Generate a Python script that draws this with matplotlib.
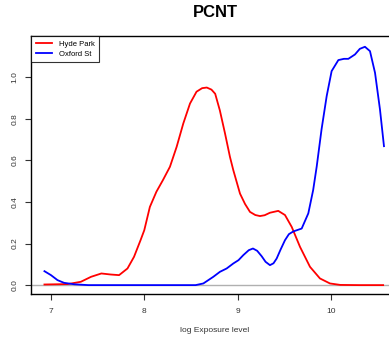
import matplotlib
matplotlib.use("Agg")
import matplotlib.pyplot as plt

plt.rcParams['font.family'] = ['Liberation Sans', 'DejaVu Sans']

# density curves
hyde_x = [6.93, 7.18, 7.32, 7.43, 7.54, 7.64, 7.73, 7.82, 7.89, 7.96, 8.0, 8.06,
          8.13, 8.2, 8.275, 8.347, 8.418, 8.49, 8.56, 8.62, 8.67, 8.72, 8.76, 8.81,
          8.865, 8.918, 8.954, 9.026, 9.08, 9.133, 9.19, 9.24, 9.29, 9.347, 9.436,
          9.508, 9.58, 9.669, 9.776, 9.883, 9.99, 10.1, 10.3, 10.56]
hyde_y = [0.003, 0.005, 0.016, 0.04, 0.056, 0.051, 0.048, 0.08, 0.136, 0.216, 0.264, 0.376,
          0.449, 0.505, 0.569, 0.665, 0.777, 0.873, 0.93, 0.947, 0.95, 0.94, 0.92, 0.84,
          0.73, 0.617, 0.553, 0.44, 0.39, 0.352, 0.337, 0.332, 0.336, 0.348, 0.357,
          0.337, 0.28, 0.184, 0.088, 0.032, 0.008, 0.001, 0.0, 0.0]

oxford_x = [6.93, 7.0, 7.07, 7.14, 7.25, 7.4, 8.55, 8.633, 8.74, 8.811, 8.883, 8.954,
            9.01, 9.061, 9.12, 9.165, 9.21, 9.258, 9.3, 9.347, 9.385, 9.419, 9.46,
            9.508, 9.55, 9.597, 9.687, 9.758, 9.81, 9.848, 9.9, 9.955, 10.008, 10.08,
            10.14, 10.187, 10.258, 10.31, 10.365, 10.419, 10.473, 10.526, 10.569]
oxford_y = [0.067, 0.048, 0.024, 0.011, 0.004, 0.0, 0.0, 0.008, 0.04, 0.064, 0.08, 0.104,
            0.12, 0.144, 0.168, 0.176, 0.165, 0.139, 0.112, 0.096, 0.105, 0.128, 0.17,
            0.216, 0.245, 0.258, 0.272, 0.345, 0.457, 0.57, 0.749, 0.909, 1.029, 1.082,
            1.088, 1.088, 1.109, 1.136, 1.146, 1.125, 1.021, 0.845, 0.668]

xticks = [7, 8, 9, 10]
yticks = [0.0, 0.2, 0.4, 0.6, 0.8, 1.0]

fig = plt.figure(figsize=(3.89, 3.38), dpi=100)
ax = fig.add_axes([0.0797, 0.130, 0.946, 0.763])

ax.axhline(0, color='#b0b0b0', lw=1.0, zorder=1)
ax.plot(hyde_x, hyde_y, color='red', lw=1.3, label='Hyde Park', zorder=2,
        solid_joinstyle='round')
ax.plot(oxford_x, oxford_y, color='blue', lw=1.3, label='Oxford St', zorder=3,
        solid_joinstyle='round')

ax.set_xlim(6.786, 10.73)
ax.set_ylim(-0.043, 1.197)
ax.set_xticks(xticks)
ax.set_xticklabels([str(t) for t in xticks])
ax.set_yticks(yticks)
ax.set_yticklabels(['%.1f' % t for t in yticks], rotation=90, va='center')
ax.tick_params(labelsize=6, length=4, width=0.8, color='#333333', labelcolor='#333333')
ax.tick_params(axis='x', pad=6)
ax.tick_params(axis='y', pad=5)
for s in ax.spines.values():
    s.set_linewidth(1.0)

ax.set_title('PCNT', fontsize=12, fontweight='bold', pad=14)
ax.set_xlabel('log Exposure level', fontsize=6, labelpad=9, color='#333333')

leg = ax.legend(loc='upper left', fontsize=5.5, frameon=True, fancybox=False,
                borderaxespad=0, handlelength=2.2, borderpad=0.6, labelspacing=0.3)
leg.get_frame().set_edgecolor('black')
leg.get_frame().set_linewidth(0.8)

fig.savefig('out.png', dpi=100)
